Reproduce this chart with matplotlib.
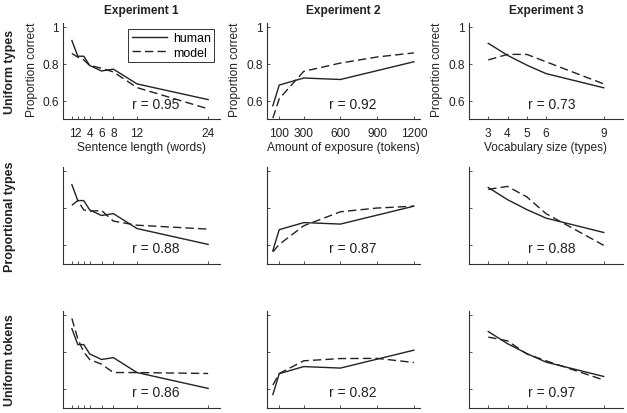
import matplotlib
matplotlib.use("Agg")
import matplotlib.pyplot as plt

plt.rcParams['font.family'] = ['Liberation Sans', 'DejaVu Sans']

# experiment 1: sentence length
exp1_x = [1, 2, 3, 4, 6, 8, 12, 24]
exp1_human = [0.925, 0.84, 0.84, 0.79, 0.76, 0.77, 0.69, 0.605]
exp1_model_ut = [0.855, 0.835, 0.82, 0.79, 0.775, 0.755, 0.67, 0.555]
exp1_model_pt = [0.815, 0.84, 0.79, 0.783, 0.787, 0.73, 0.708, 0.687]
exp1_model_tok = [0.98, 0.87, 0.80, 0.76, 0.735, 0.69, 0.69, 0.685]
exp1_ticks = [1, 2, 3, 4, 6, 8, 12, 24]
exp1_ticklabels = ['1', '2', '', '4', '6', '8', '12', '24']

# experiment 2: amount of exposure
exp2_x = [48, 100, 300, 600, 900, 1200]
exp2_human = [0.572, 0.684, 0.722, 0.714, 0.762, 0.81]
exp2_model_ut = [0.505, 0.61, 0.758, 0.803, 0.836, 0.858]
exp2_model_pt = [0.565, 0.605, 0.705, 0.78, 0.80, 0.81]
exp2_model_tok = [0.623, 0.685, 0.753, 0.765, 0.766, 0.744]
exp2_ticks = [100, 300, 600, 900, 1200]

# experiment 3: vocabulary size
exp3_x = [3, 4, 5, 6, 9]
exp3_human = [0.91, 0.845, 0.792, 0.746, 0.669]
exp3_model_ut = [0.82, 0.85, 0.85, 0.81, 0.69]
exp3_model_pt = [0.90, 0.916, 0.86, 0.77, 0.60]
exp3_model_tok = [0.88, 0.86, 0.79, 0.753, 0.65]
exp3_ticks = [3, 4, 5, 6, 9]

titles = ['Experiment 1', 'Experiment 2', 'Experiment 3']
xlabels = ['Sentence length (words)', 'Amount of exposure (tokens)', 'Vocabulary size (types)']
row_labels = ['Uniform types', 'Proportional types', 'Uniform tokens']
r_values = [[0.95, 0.92, 0.73], [0.88, 0.87, 0.88], [0.86, 0.82, 0.97]]

xs = [exp1_x, exp2_x, exp3_x]
humans = [exp1_human, exp2_human, exp3_human]
models = [[exp1_model_ut, exp2_model_ut, exp3_model_ut],
          [exp1_model_pt, exp2_model_pt, exp3_model_pt],
          [exp1_model_tok, exp2_model_tok, exp3_model_tok]]
ticks = [exp1_ticks, exp2_ticks, exp3_ticks]
ticklabels = [exp1_ticklabels, [str(t) for t in exp2_ticks], [str(t) for t in exp3_ticks]]
xlims = [(-0.5, 26), (0, 1250), (2, 10)]

W, H = 627, 414
fig = plt.figure(figsize=(W / 100, H / 100), dpi=100)

col_px = [(63, 220), (267, 420), (469, 623)]
row_px = [(24, 120), (168, 265), (312, 409)]
r_xfrac = [0.59, 0.56, 0.54]
ylab_x = [32, 235, 437]

for i in range(3):
    for j in range(3):
        l, r = col_px[j]
        t, b = row_px[i]
        ax = fig.add_axes([l / W, (H - b) / H, (r - l) / W, (b - t) / H])
        ax.plot(xs[j], humans[j], color='#222222', lw=1.0, label='human')
        ax.plot(xs[j], models[i][j], color='#222222', lw=1.0, dashes=(6, 3), label='model')
        ax.set_xlim(*xlims[j])
        ax.set_ylim(0.5, 1.02)
        ax.set_yticks([0.6, 0.8, 1.0])
        ax.set_xticks(ticks[j])
        for s in ['top', 'right']:
            ax.spines[s].set_visible(False)
        for s in ['left', 'bottom']:
            ax.spines[s].set_linewidth(0.8)
            ax.spines[s].set_color('#333333')
        ax.tick_params(direction='in', length=2.5, width=0.6, labelsize=8.6,
                       colors='#333333', labelcolor='#222222')
        ax.tick_params(axis='x', pad=6)
        ax.tick_params(axis='y', pad=3)
        if i == 0:
            ax.set_xticklabels(ticklabels[j])
            ax.set_yticklabels(['0.6', '0.8', '1'])
            ax.set_xlabel(xlabels[j], fontsize=8.6, labelpad=1, color='#222222')
            ax.set_title(titles[j], fontsize=8.6, fontweight='bold', pad=7.5, color='#222222')
        else:
            ax.set_xticklabels([])
            ax.set_yticklabels([])
        ax.text(r_xfrac[j], 0.16, f'r = {r_values[i][j]:.2f}', transform=ax.transAxes,
                ha='center', va='center', fontsize=10, color='#222222')
        if i == 0 and j == 0:
            leg = ax.legend(loc='upper right', fontsize=8.9, fancybox=False,
                            edgecolor='#333333', framealpha=1, handlelength=2.8,
                            borderaxespad=0.45, borderpad=0.3, labelspacing=0.2,
                            handletextpad=0.5)
            leg.get_frame().set_linewidth(0.7)

    fig.text(10 / W, 1 - (row_px[i][0] + row_px[i][1]) / 2 / H, row_labels[i],
             rotation=90, ha='center', va='center', fontsize=9, fontweight='bold',
             color='#222222')

for j in range(3):
    fig.text(ylab_x[j] / W, 1 - 70 / H, 'Proportion correct', rotation=90,
             ha='center', va='center', fontsize=8.6, color='#222222')

fig.savefig('out.png', dpi=100)
